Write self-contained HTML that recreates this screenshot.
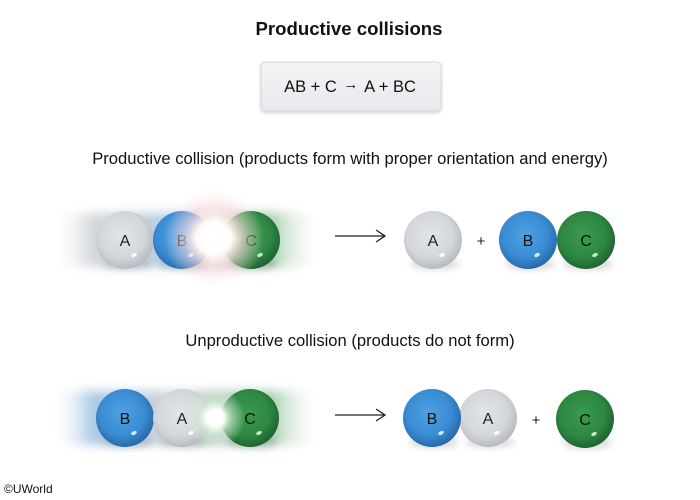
<!DOCTYPE html>
<html><head><meta charset="utf-8"><style>
html,body{margin:0;padding:0;background:#fff;}
svg{display:block;}
text{font-family:"Liberation Sans",Arial,sans-serif;}
</style></head><body>
<svg width="700" height="500" viewBox="0 0 700 500" xmlns="http://www.w3.org/2000/svg">
<defs>
  <radialGradient id="gGray" cx="0.45" cy="0.42" r="0.6">
    <stop offset="0" stop-color="#e2e5e8"/>
    <stop offset="0.65" stop-color="#d3d6da"/>
    <stop offset="1" stop-color="#b4b8bd"/>
  </radialGradient>
  <radialGradient id="gBlue" cx="0.45" cy="0.42" r="0.6">
    <stop offset="0" stop-color="#4fa2e2"/>
    <stop offset="0.65" stop-color="#3a8bd2"/>
    <stop offset="1" stop-color="#2566a8"/>
  </radialGradient>
  <radialGradient id="gGreen" cx="0.45" cy="0.42" r="0.6">
    <stop offset="0" stop-color="#3a9a50"/>
    <stop offset="0.65" stop-color="#2e8742"/>
    <stop offset="1" stop-color="#1c6230"/>
  </radialGradient>
  <linearGradient id="boxG" x1="0" y1="0" x2="0" y2="1">
    <stop offset="0" stop-color="#f4f5f7"/>
    <stop offset="1" stop-color="#e6e8eb"/>
  </linearGradient>
  <linearGradient id="streak1" x1="0" y1="0" x2="1" y2="0">
    <stop offset="0" stop-color="#ffffff" stop-opacity="0"/>
    <stop offset="0.15" stop-color="#cfd3d7" stop-opacity="0.9"/>
    <stop offset="0.45" stop-color="#b2cde4" stop-opacity="1"/>
    <stop offset="0.8" stop-color="#9cc8a6" stop-opacity="1"/>
    <stop offset="1" stop-color="#ffffff" stop-opacity="0"/>
  </linearGradient>
  <linearGradient id="streak2" x1="0" y1="0" x2="1" y2="0">
    <stop offset="0" stop-color="#ffffff" stop-opacity="0"/>
    <stop offset="0.15" stop-color="#a9c8e6" stop-opacity="1"/>
    <stop offset="0.45" stop-color="#cfd4d8" stop-opacity="1"/>
    <stop offset="0.8" stop-color="#9cc8a6" stop-opacity="1"/>
    <stop offset="1" stop-color="#ffffff" stop-opacity="0"/>
  </linearGradient>
  <radialGradient id="flash1" cx="0.5" cy="0.5" r="0.5">
    <stop offset="0" stop-color="#ffffff" stop-opacity="1"/>
    <stop offset="0.35" stop-color="#fff6f0" stop-opacity="1"/>
    <stop offset="0.65" stop-color="#fbd8da" stop-opacity="0.55"/>
    <stop offset="1" stop-color="#fde6e8" stop-opacity="0"/>
  </radialGradient>
  <radialGradient id="flash2" cx="0.5" cy="0.5" r="0.5">
    <stop offset="0" stop-color="#ffffff" stop-opacity="1"/>
    <stop offset="0.3" stop-color="#f4fbef" stop-opacity="1"/>
    <stop offset="0.6" stop-color="#cfe9d2" stop-opacity="0.6"/>
    <stop offset="1" stop-color="#e2f3e4" stop-opacity="0"/>
  </radialGradient>
  <filter id="blur6" x="-20%" y="-50%" width="140%" height="200%"><feGaussianBlur stdDeviation="5"/></filter>
  <filter id="blur2" x="-50%" y="-50%" width="200%" height="200%"><feGaussianBlur stdDeviation="2.5"/></filter>
  <filter id="blur3" x="-50%" y="-50%" width="200%" height="200%"><feGaussianBlur stdDeviation="3.5"/></filter>
  <filter id="boxSh" x="-10%" y="-20%" width="120%" height="150%"><feDropShadow dx="0" dy="1.5" stdDeviation="1.5" flood-color="#000" flood-opacity="0.18"/></filter>
  <g id="sGray"><ellipse cx="2" cy="24" rx="25" ry="6" fill="#000" opacity="0.13" filter="url(#blur3)"/><circle r="29" fill="url(#gGray)"/><ellipse cx="9" cy="15" rx="3" ry="1.8" fill="#fff" opacity="0.95" transform="rotate(-25 9 15)"/></g>
  <g id="sBlue"><ellipse cx="2" cy="24" rx="25" ry="6" fill="#000" opacity="0.15" filter="url(#blur3)"/><circle r="29" fill="url(#gBlue)"/><ellipse cx="9" cy="15" rx="3" ry="1.8" fill="#dff0ff" opacity="0.95" transform="rotate(-25 9 15)"/></g>
  <g id="sGreen"><ellipse cx="2" cy="24" rx="25" ry="6" fill="#000" opacity="0.15" filter="url(#blur3)"/><circle r="29" fill="url(#gGreen)"/><ellipse cx="9" cy="15" rx="3" ry="1.8" fill="#d8f3dc" opacity="0.9" transform="rotate(-25 9 15)"/></g>
</defs>

<!-- Title -->
<text x="349" y="35" font-size="18.6" font-weight="bold" text-anchor="middle" fill="#111">Productive collisions</text>

<!-- Equation box -->
<rect x="261" y="62" width="180" height="49" rx="4" fill="url(#boxG)" stroke="#d6d9dc" stroke-width="1" filter="url(#boxSh)"/>
<text x="350" y="92" font-size="16.5" text-anchor="middle" fill="#111">AB + C <tspan font-size="15" dx="2" dy="-3">→</tspan><tspan dx="2" dy="3"> A + BC</tspan></text>

<!-- Subtitle 1 -->
<text x="350" y="164" font-size="16.6" text-anchor="middle" fill="#111">Productive collision (products form with proper orientation and energy)</text>

<!-- Row 1 left -->
<rect x="52" y="213" width="270" height="54" fill="url(#streak1)" filter="url(#blur6)"/>
<g transform="translate(125 240)"><use href="#sGray"/><text y="6" font-size="16" text-anchor="middle" fill="#222">A</text></g>
<g transform="translate(182 240)"><use href="#sBlue"/><text y="6" font-size="16" text-anchor="middle" fill="#111">B</text></g>
<g transform="translate(251 240)"><use href="#sGreen"/><text y="6" font-size="16" text-anchor="middle" fill="#111">C</text></g>
<circle cx="214" cy="238" r="50" fill="url(#flash1)"/>
<circle cx="214" cy="238" r="15" fill="#fff" opacity="0.95" filter="url(#blur2)"/>
<path d="M214 212 L218 234 L240 238 L218 242 L214 264 L210 242 L188 238 L210 234 Z" fill="#fff" opacity="0.9" filter="url(#blur2)"/>

<!-- Row 1 arrow -->
<line x1="335" y1="236" x2="385" y2="236" stroke="#222" stroke-width="1.3"/>
<path d="M376 230 L385 236 L376 242" fill="none" stroke="#222" stroke-width="1.3"/>

<!-- Row 1 right -->
<g transform="translate(433 240)"><use href="#sGray"/><text y="6" font-size="16" text-anchor="middle" fill="#222">A</text></g>
<text x="481" y="246" font-size="15" text-anchor="middle" fill="#222">+</text>
<g transform="translate(586 240)"><use href="#sGreen"/><text y="6" font-size="16" text-anchor="middle" fill="#111">C</text></g>
<g transform="translate(528 240)"><use href="#sBlue"/><text y="6" font-size="16" text-anchor="middle" fill="#111">B</text></g>

<!-- Subtitle 2 -->
<text x="350" y="346" font-size="16.6" text-anchor="middle" fill="#111">Unproductive collision (products do not form)</text>

<!-- Row 2 left -->
<rect x="52" y="391" width="270" height="54" fill="url(#streak2)" filter="url(#blur6)"/>
<g transform="translate(125 418)"><use href="#sBlue"/><text y="6" font-size="16" text-anchor="middle" fill="#111">B</text></g>
<g transform="translate(182 418)"><use href="#sGray"/><text y="6" font-size="16" text-anchor="middle" fill="#222">A</text></g>
<g transform="translate(250 418)"><use href="#sGreen"/><text y="6" font-size="16" text-anchor="middle" fill="#111">C</text></g>
<circle cx="215" cy="418" r="30" fill="url(#flash2)"/>
<circle cx="215" cy="418" r="9" fill="#fff" opacity="0.95" filter="url(#blur2)"/>

<!-- Row 2 arrow -->
<line x1="335" y1="415" x2="385" y2="415" stroke="#222" stroke-width="1.3"/>
<path d="M376 409 L385 415 L376 421" fill="none" stroke="#222" stroke-width="1.3"/>

<!-- Row 2 right -->
<g transform="translate(488 418)"><use href="#sGray"/><text y="6" font-size="16" text-anchor="middle" fill="#222">A</text></g>
<g transform="translate(432 418)"><use href="#sBlue"/><text y="6" font-size="16" text-anchor="middle" fill="#111">B</text></g>
<text x="536" y="425" font-size="15" text-anchor="middle" fill="#222">+</text>
<g transform="translate(585 419)"><use href="#sGreen"/><text y="6" font-size="16" text-anchor="middle" fill="#111">C</text></g>

<!-- Copyright -->
<text x="4" y="493" font-size="12" fill="#111">©UWorld</text>
</svg>
</body></html>
